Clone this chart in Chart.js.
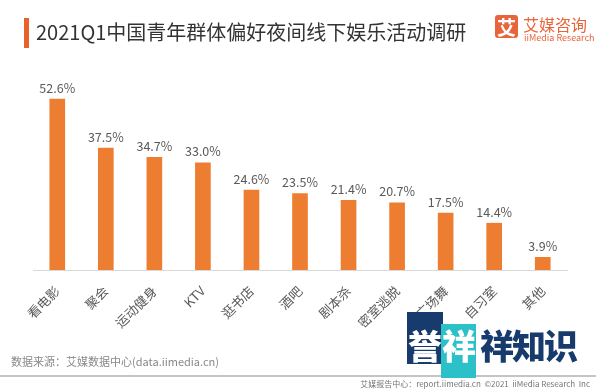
<!DOCTYPE html>
<html>
<head>
<meta charset="utf-8">
<script src="https://cdn.jsdelivr.net/npm/chart.js@4/dist/chart.umd.min.js"></script>
<style>
  html, body { margin: 0; padding: 0; background: #fff; }
  body { width: 600px; height: 390px; position: relative; overflow: hidden;
         font-family: "Noto Sans CJK SC", "Noto Sans", sans-serif; }
  #wrap { position: absolute; left: 0; top: 0; width: 600px; height: 390px; }
  .abs { position: absolute; white-space: nowrap; }
  #titlebar { left: 24px; top: 18px; width: 5px; height: 30px; background: #e8622c; }
  #title { left: 36px; top: 18px; font-size: 20px; line-height: 28px; color: #333; }
  #logo-sq { left: 495px; top: 15px; width: 23px; height: 23px; background: #e8643a; border-radius: 3px;
             color: #fff; font-size: 19px; line-height: 23px; text-align: center; font-weight: bold; }
  #logo-cn { left: 523px; top: 14px; font-size: 16px; line-height: 20px; color: #e8643a; }
  #logo-en { left: 524px; top: 33px; font-size: 9px; line-height: 10px; color: #e8643a; }
  #source { left: 11px; top: 354px; font-size: 11px; line-height: 14px; color: #888; }
  #rule { left: 0; top: 375px; width: 596px; height: 2px; background: #c4c4c4; }
  #footer { right: 10px; top: 378px; font-size: 8px; line-height: 11px; color: #777; }
  #wm1 { left: 407px; top: 312px; width: 36px; height: 52px; background: #173b6c; }
  #wm2 { left: 441px; top: 324px; width: 35px; height: 54px; background: #2cc1c9; }
  .wmt { top: 325px; font-size: 34px; line-height: 40px; font-weight: 900; }
  #wmt1 { left: 408px; color: #fff; }
  #wmt2 { left: 442px; color: #fff; }
  #wmt3 { left: 480px; color: #173b6c; letter-spacing: -2px; }
</style>
</head>
<body>
<div id="wrap"><canvas id="chart" width="600" height="390"></canvas></div>
<div class="abs" id="titlebar"></div>
<div class="abs" id="title">2021Q1中国青年群体偏好夜间线下娱乐活动调研</div>
<div class="abs" id="logo-sq">艾</div>
<div class="abs" id="logo-cn">艾媒咨询</div>
<div class="abs" id="logo-en">iiMedia Research</div>
<div class="abs" id="source">数据来源：艾媒数据中心(data.iimedia.cn)</div>
<div class="abs" id="rule"></div>
<div class="abs" id="footer">艾媒报告中心：report.iimedia.cn &nbsp;©2021 &nbsp;iiMedia Research &nbsp;Inc</div>
<div class="abs" id="wm1"></div>
<div class="abs" id="wm2"></div>
<div class="abs wmt" id="wmt1">誉</div>
<div class="abs wmt" id="wmt2">祥</div>
<div class="abs wmt" id="wmt3">祥知识</div>
<script>
// 2021Q1 青年夜间线下娱乐偏好（%）
const categories = ["看电影", "聚会", "运动健身", "KTV", "逛书店", "酒吧", "剧本杀", "密室逃脱", "广场舞", "自习室", "其他"];
const shares = [52.6, 37.5, 34.7, 33.0, 24.6, 23.5, 21.4, 20.7, 17.5, 14.4, 3.9];

const BAR_COLOR = "#ed7d31";
const TEXT_COLOR = "#595959";
const FONT = "'Noto Sans CJK SC', 'Noto Sans', sans-serif";

// etiquetas de valor encima de cada barra
const valueLabels = {
    id: "valueLabels",
    afterDatasetsDraw(chart) {
        const ctx = chart.ctx;
        const meta = chart.getDatasetMeta(0);
        ctx.save();
        ctx.font = "12.5px " + FONT;
        ctx.fillStyle = TEXT_COLOR;
        ctx.textAlign = "center";
        ctx.textBaseline = "bottom";
        meta.data.forEach((bar, i) => {
            ctx.fillText(shares[i].toFixed(1) + "%", bar.x, bar.y - 5);
        });
        ctx.restore();
    },
};

new Chart(document.getElementById("chart"), {
    type: "bar",
    data: {
        labels: categories,
        datasets: [{
            data: shares,
            backgroundColor: BAR_COLOR,
            barThickness: 15,
        }],
    },
    options: {
        responsive: false,
        animation: false,
        layout: { padding: { left: 33, right: 33, top: 75, bottom: 0 } },
        plugins: { legend: { display: false }, tooltip: { enabled: false } },
        scales: {
            x: {
                grid: { drawOnChartArea: false, drawTicks: false },
                border: { color: "#d9d9d9", width: 1 },
                ticks: {
                    color: TEXT_COLOR,
                    font: { size: 13, family: FONT },
                    minRotation: 45,
                    maxRotation: 45,
                    autoSkip: false,
                    padding: 13,
                },
                afterFit(scale) { scale.height = 120; },
            },
            y: { display: false, min: 0, max: 60 },
        },
    },
    plugins: [valueLabels],
});
</script>
</body>
</html>
